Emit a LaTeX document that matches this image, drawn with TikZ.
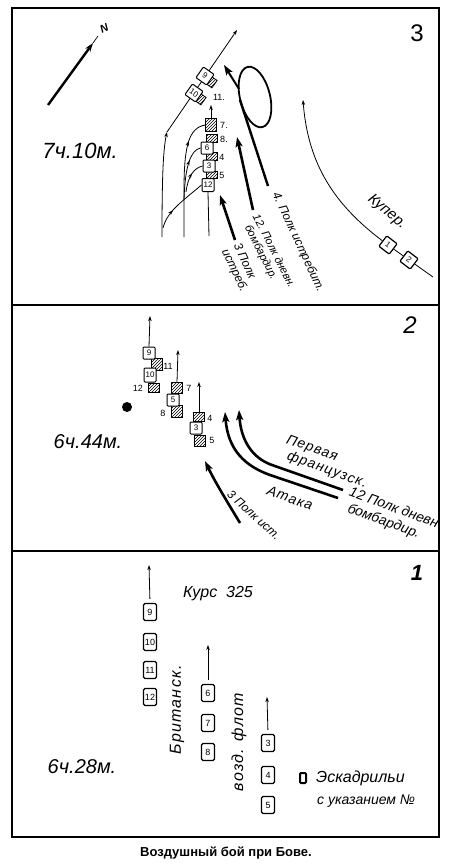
\documentclass[tikz,border=0pt]{standalone}
\usepackage{fontspec}
\setmainfont{Liberation Sans}
\newfontfamily\hwsp[LetterSpace=8]{Liberation Sans}
\usetikzlibrary{arrows.meta,patterns,decorations.markings}
\newcommand\hwf[1]{\itshape\fontsize{#1}{#1}\selectfont}
\newcommand\upf[1]{\fontsize{#1}{#1}\selectfont}
\begin{document}
\begin{tikzpicture}[x=1pt,y=-1pt,
  frame/.style={line width=1.8pt},
  thinl/.style={line width=0.8pt},
  thinarrow/.style={line width=0.8pt,-{Stealth[length=5pt,width=3.5pt]}},
  bigarrow/.style={line width=2.6pt,-{Stealth[length=10pt,width=7pt,inset=2pt]}},
  midarrow/.style={postaction={decorate},decoration={markings,mark=at position #1 with {\arrow{Stealth[length=5pt,width=3.5pt]}}}},
  wbox/.style={draw,line width=1pt,fill=white,rounded corners=1pt,inner sep=0pt,minimum width=12pt,minimum height=12pt,font=\upf{8}},
  sbox/.style={draw,line width=0.8pt,preaction={fill=white},pattern=north east lines,inner sep=0pt,minimum width=11pt,minimum height=9pt},
  pbox/.style={draw,line width=1.3pt,fill=white,rounded corners=1.5pt,inner sep=0pt,minimum width=13pt,minimum height=17pt,font=\upf{9}},
  numl/.style={font=\upf{9},inner sep=0pt},
  hw/.style={font=\hwf{#1},inner sep=0pt},
  hws/.style={font=\hwsp\hwf{#1},inner sep=0pt}
]
\useasboundingbox (0,0) rectangle (450,868);
% frame
\draw[frame] (12,8) rectangle (439,837);
\draw[frame] (12,305) -- (439,305);
\draw[frame] (12,551) -- (439,551);

%================ panel 3
\node[font=\upf{24}] (n3) at (417,33) {3};
\coordinate (ns) at (48,105);
\coordinate (ne) at (93,43);
\coordinate (nt) at (98,36);
\draw[line width=2.4pt,-{Stealth[length=9pt,width=6pt]}] (ns) -- (ne);
\draw[line width=0.7pt] (ne) -- (nt);
\node[font=\bfseries\itshape\upf{11},rotate=25] (nN) at (104,28) {N};
\node[hw=22] (t3) at (80,151) {7ч.10м.};

\coordinate (a0) at (162,237);
\coordinate (a1) at (167,132);
\coordinate (a2) at (237,30);
\draw[thinarrow] (a0) .. controls (162,180) and (163,150) .. (a1);
\draw[thinarrow] (a1) -- (a2);

\node[sbox,rotate=-35] (s9) at (210,81) {};
\node[sbox,rotate=-35] (s10) at (199,98) {};
\node[wbox,rotate=-35,minimum width=13pt,minimum height=13pt] (w9) at (205,76) {9};
\node[wbox,rotate=-35,minimum width=13pt,minimum height=13pt] (w10) at (194,93) {10};
\node[numl] (l11a) at (219,97) {11.};

\node[sbox,minimum height=13pt] (s7) at (211,125) {};
\node[sbox,minimum height=8pt] (s8) at (212,138) {};
\node[sbox,minimum height=8pt] (s4) at (212,156) {};
\node[sbox,minimum height=7pt] (s5) at (212,175) {};
\node[wbox] (w6) at (207,148) {6};
\node[wbox] (w3) at (209,166) {3};
\node[wbox,minimum height=13pt] (w12) at (208,185) {12};
\node[numl] (l7a) at (224,125) {7.};
\node[numl] (l8a) at (224,139) {8.};
\node[numl] (l4a) at (222,157) {4};
\node[numl] (l5a) at (222,175) {5};
\coordinate (up3) at (211,105);
\draw[thinarrow] (s7.north) -- (up3);
\coordinate (v0) at (209,236);
\draw[thinl] (w12.south) -- (v0);

\coordinate (b0) at (163,228);
\draw[thinl,midarrow=0.35] (b0) .. controls (167,212) and (180,203) .. (w12.west);
\coordinate (c0) at (184,237);
\coordinate (c0m) at (184,190);
\draw[thinl,midarrow=0.8] (c0) -- (c0m) .. controls (184,145) and (189,128) .. (s7.west);
\coordinate (c1s) at (184,200);
\draw[thinl,midarrow=0.7] (c1s) .. controls (185,165) and (191,150) .. (w6.west);
\coordinate (c2s) at (186,192);
\draw[thinl,midarrow=0.6] (c2s) .. controls (188,176) and (194,168) .. (w3.west);

\coordinate (k1s) at (235,240); \coordinate (k1e) at (220,195);
\draw[bigarrow] (k1s) -- (k1e);
\node[hw=12,rotate=-65,align=left] (k1t) at (240,268) {3 Полк\\[1pt]истреб.};
\coordinate (k2s) at (253,210); \coordinate (k2e) at (237,137);
\draw[bigarrow] (k2s) -- (k2e);
\node[hw=11,rotate=-63,align=left] (k2t) at (268,254) {12. Полк дневн.\\[1pt]\hspace{6pt}бомбардир.};
\coordinate (k3s) at (268,186); \coordinate (k3m) at (240,100);
\draw[line width=2.4pt] (k3s) -- (k3m);
\draw[line width=1.8pt, rotate around={14:(255,97)}] (255,97) ellipse [x radius=15pt, y radius=31pt];
\coordinate (k3a) at (239,89); \coordinate (k3b) at (224,65);
\draw[bigarrow,line width=2pt] (k3a) -- (k3b);
\node[hw=12,rotate=-65] (k3t) at (298,242) {4. Полк истребит.};

\node[wbox,rotate=-37,minimum width=13pt,minimum height=13pt,line width=1.2pt] (cb1) at (388,245) {1};
\node[wbox,rotate=-37,minimum width=13pt,minimum height=13pt,line width=1.2pt] (cb2) at (409,260) {2};
\coordinate (ct) at (433,277);
\coordinate (ch) at (303,100);
\draw[thinl] (ct) -- (cb2);
\draw[thinl] (cb2) -- (cb1);
\draw[thinarrow] (cb1) .. controls (335,205) and (308,165) .. (ch);
\node[hw=15,rotate=-40] (kur) at (387,212) {Купер.};

%================ panel 2
\node[font=\itshape\upf{24}] (n2) at (410,325) {2};
\node[hw=20] (t2) at (88,442) {6ч.44м.};
\node[circle,fill,inner sep=0pt,minimum size=10pt] (dot) at (127,407) {};

\node[sbox,minimum height=12pt] (q11) at (157,364) {};
\node[sbox] (q12) at (154,388) {};
\node[wbox] (q9) at (149,353) {9};
\node[wbox,minimum height=14pt] (q10) at (150,375) {10};
\node[numl] (lq11) at (168,366) {11};
\node[numl] (lq12) at (138,388) {12};
\coordinate (qa) at (150,316);
\draw[thinarrow] (q9.north) -- (qa);

\node[sbox,minimum height=11pt] (q7) at (177,388) {};
\node[sbox,minimum height=12pt] (q8) at (177,411) {};
\node[wbox] (q5) at (173,400) {5};
\node[numl] (lq7) at (189,388) {7};
\node[numl] (lq8) at (163,413) {8};
\coordinate (qb) at (178,350);
\draw[thinarrow] (q7.north) -- (qb);

\node[sbox] (q4) at (199,417) {};
\node[sbox,minimum height=11pt] (q5b) at (200,441) {};
\node[wbox] (q3) at (196,428) {3};
\node[numl] (lq4) at (210,418) {4};
\node[numl] (lq5) at (212,440) {5};
\coordinate (qc) at (199,382);
\draw[thinarrow] (q4.north) -- (qc);

\coordinate (r1s) at (240,523); \coordinate (r1e) at (205,461);
\draw[bigarrow] (r1s) .. controls (228,503) and (215,482) .. (r1e);
\node[hw=12,rotate=-42] (r1t) at (254,515) {3 Полк ист.};
\coordinate (ra0) at (338,498); \coordinate (ra1) at (270,475); \coordinate (ra2) at (225,412);
\draw[bigarrow] (ra0) -- (ra1) .. controls (245,466) and (228,450) .. (ra2);
\coordinate (rb0) at (343,490); \coordinate (rb1) at (272,465); \coordinate (rb2) at (239,410);
\draw[bigarrow] (rb0) -- (rb1) .. controls (252,458) and (241,440) .. (rb2);
\node[hws=14,rotate=-20] (rt1) at (312,449) {Первая};
\node[hws=14,rotate=-20] (rt2) at (327,470) {французск.};
\node[hws=14,rotate=-20] (rt3) at (290,498) {Атака};
\node[hw=14,rotate=-20,align=left] (rt4) at (391,516) {12 Полк дневн\\[2pt]\hspace{4pt}бомбардир.};

%================ panel 1
\node[font=\itshape\bfseries\upf{22}] (n1) at (417,573) {1};
\node[hw=20] (t1) at (82,767) {6ч.28м.};
\node[hw=16] (kurs) at (218,594) {Курс\ \ 325};
\node[pbox] (p9) at (150,612) {9};
\node[pbox] (p10) at (150,642) {10};
\node[pbox] (p11) at (150,670) {11};
\node[pbox] (p12) at (150,697) {12};
\coordinate (pa) at (149,565);
\draw[thinarrow,shorten <=4pt] (p9.north) -- (pa);
\node[pbox] (p6) at (208,693) {6};
\node[pbox] (p7) at (208,723) {7};
\node[pbox] (p8) at (208,752) {8};
\coordinate (pb) at (208,645);
\draw[thinarrow,shorten <=4pt] (p6.north) -- (pb);
\node[pbox] (p3) at (268,743) {3};
\node[pbox] (p4) at (268,775) {4};
\node[pbox] (p5) at (268,805) {5};
\coordinate (pc) at (267,697);
\draw[thinarrow,shorten <=4pt] (p3.north) -- (pc);
\node[hws=16,rotate=90] (brit) at (177,710) {Британск.};
\node[hws=16,rotate=90] (flot) at (239,742) {возд. флот};
\node[draw,line width=2pt,rounded corners=1pt,minimum width=6pt,minimum height=10pt,inner sep=0pt] (leg) at (303,778) {};
\node[hw=16,anchor=west] (legt1) at (316,778) {Эскадрильи};
\node[hw=14,anchor=west] (legt2) at (317,801) {с указанием №};

% caption
\node[font=\bfseries\upf{13}] (cap) at (226,853) {Воздушный бой при Бове.};
\end{tikzpicture}
\end{document}
